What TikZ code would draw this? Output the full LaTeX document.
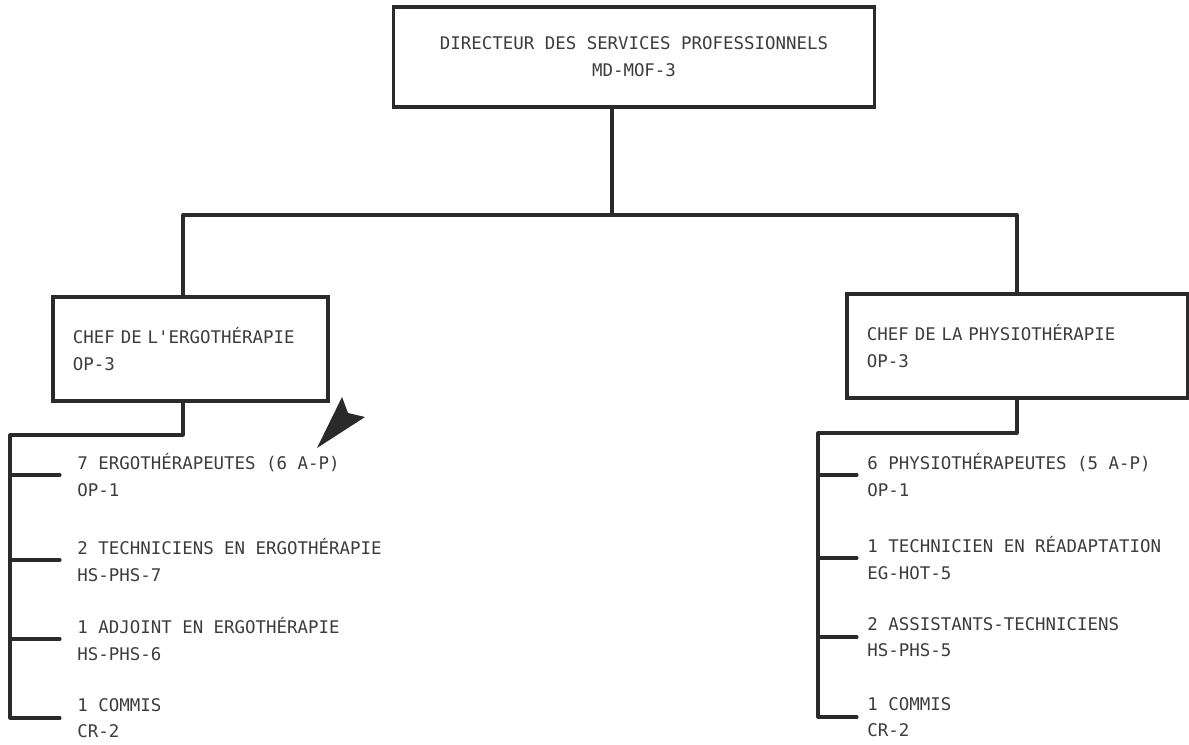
\documentclass[tikz,border=0pt]{standalone}
\usepackage{fontspec}
\setmonofont{DejaVu Sans Mono}
\usepackage{tikz}
\usetikzlibrary{positioning}
\definecolor{ink}{HTML}{2A2A2A}
\definecolor{typeink}{HTML}{3C3C3C}
\tikzset{
    orgbox/.style={rectangle, draw=ink, line width=2.2pt, inner xsep=0.5cm, minimum height=2.6cm, text=typeink, align=left},
    orgitem/.style={anchor=west, inner xsep=0.425cm, inner ysep=0pt, text=typeink, align=left},
    link/.style={draw=ink, line width=2.2pt, line cap=round, line join=round}
}

\begin{document}
\begin{tikzpicture}[x=0.025cm, y=-0.025cm, font=\ttfamily\fontsize{12.4pt}{19pt}\selectfont]
    \useasboundingbox (0,0) rectangle (1189,744);
    \node[orgbox, align=center, minimum width=12cm, minimum height=2.5cm, inner xsep=0pt] (director) at (634,57)
      {DIRECTEUR DES SERVICES PROFESSIONNELS\\MD-MOF-3};
    \node[orgbox, text width=5.875cm] (ergo) at (190.5,349)
      {CHEF DE L'ERGOTHÉRAPIE\\OP-3};
    \node[orgbox, text width=7.5cm] (physio) at (1017,346)
      {CHEF DE LA PHYSIOTHÉRAPIE\\OP-3};

    \coordinate (split) at (612,215);
    \coordinate (lhook) at (183,215);
    \coordinate (rhook) at (1017,215);
    \draw[link] (director.south -| split) -- (split);
    \draw[link] (lhook) -- (rhook);
    \draw[link] (lhook) -- (lhook |- ergo.north);
    \draw[link] (rhook) -- (physio.north);

    \node[orgitem] (ergo1) at (60,475) {7 ERGOTHÉRAPEUTES (6 A-P)\\OP-1};
    \node[orgitem] (ergo2) at (60,560) {2 TECHNICIENS EN ERGOTHÉRAPIE\\HS-PHS-7};
    \node[orgitem] (ergo3) at (60,639) {1 ADJOINT EN ERGOTHÉRAPIE\\HS-PHS-6};
    \node[orgitem] (ergo4) at (60,718) {1 COMMIS\\CR-2};

    \node[orgitem, inner xsep=0.25cm] (physio1) at (857,475) {6 PHYSIOTHÉRAPEUTES (5 A-P)\\OP-1};
    \node[orgitem, inner xsep=0.25cm] (physio2) at (857,558) {1 TECHNICIEN EN RÉADAPTATION\\EG-HOT-5};
    \node[orgitem, inner xsep=0.25cm] (physio3) at (857,637) {2 ASSISTANTS-TECHNICIENS\\HS-PHS-5};
    \node[orgitem, inner xsep=0.25cm] (physio4) at (857,717) {1 COMMIS\\CR-2};

    \coordinate (lspine) at (10,435);
    \coordinate (rspine) at (818,433);
    \draw[link] (ergo.south -| lhook) |- (lspine) -- (lspine |- ergo4.west) -- (ergo4.west);
    \draw[link] (lspine |- ergo1.west) -- (ergo1.west);
    \draw[link] (lspine |- ergo2.west) -- (ergo2.west);
    \draw[link] (lspine |- ergo3.west) -- (ergo3.west);
    \draw[link] (physio.south) |- (rspine) -- (rspine |- physio4.west) -- (physio4.west);
    \draw[link] (rspine |- physio1.west) -- (physio1.west);
    \draw[link] (rspine |- physio2.west) -- (physio2.west);
    \draw[link] (rspine |- physio3.west) -- (physio3.west);

    \fill[ink] (317,448) -- (342,397) -- (348,413) -- (365,417) -- cycle;
  \end{tikzpicture}
\end{document}
